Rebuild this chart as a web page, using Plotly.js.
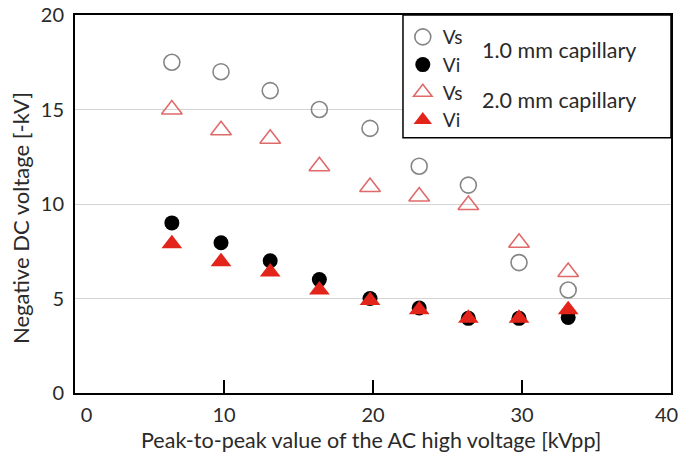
<!DOCTYPE html>
<html>
<head>
<meta charset="utf-8">
<script src="https://cdn.plot.ly/plotly-3.0.1.min.js"></script>
<style>html,body{margin:0;padding:0;background:#fff;}#chart{width:681px;height:454px;}</style>
</head>
<body>
<div id="chart"></div>
<script>
// Peak-to-peak AC voltage [kVpp]
var acVoltage = [6.5, 9.8, 13.1, 16.4, 19.8, 23.1, 26.4, 29.8, 33.1];
// 1.0 mm capillary
var vs1mm = [17.5, 17.0, 16.0, 15.0, 14.0, 12.0, 11.0, 6.9, 5.45];
var vi1mm = [9.0, 7.95, 7.0, 6.0, 5.0, 4.5, 3.95, 3.95, 4.0];
// 2.0 mm capillary
var vs2mm = [15.0, 13.9, 13.45, 12.0, 10.9, 10.4, 9.95, 7.95, 6.4];
var vi2mm = [7.9, 6.95, 6.4, 5.45, 4.9, 4.4, 3.95, 3.95, 4.4];
var seriesNames = ['Vs', 'Vi', 'Vs', 'Vi'];
var groupLabels = ['1.0 mm capillary', '2.0 mm capillary'];
var xTicks = [0, 10, 20, 30, 40];
// last label (40) sits at the right edge; it is drawn as an annotation so it stays inside the page
var xTickText = ['\u2007\u20070', '10', '20', '30', ''];
var xLastTick = xTicks[xTicks.length - 1];
var yTicks = [0, 5, 10, 15, 20];
var xTitle = 'Peak-to-peak value of the AC high voltage [kVpp]';
var yTitle = 'Negative DC voltage [-kV]';

var FONT = 'Lato, "Open Sans", sans-serif';
var TXT = '#2a2a2a';

var traces = [
  {x: acVoltage, y: vs1mm, name: seriesNames[0], mode: 'markers', type: 'scatter',
   marker: {symbol: 'circle-open', size: 16, color: '#858585', line: {width: 1.6, color: '#858585'}}},
  {x: acVoltage, y: vi1mm, name: seriesNames[1], mode: 'markers', type: 'scatter',
   marker: {symbol: 'circle', size: 15, color: '#000000'}},
  {x: acVoltage, y: vs2mm, name: seriesNames[2], mode: 'markers', type: 'scatter',
   marker: {symbol: 'triangle-up-open', size: 18, color: '#e06a6a', line: {width: 1.6, color: '#e06a6a'}}},
  {x: acVoltage, y: vi2mm, name: seriesNames[3], mode: 'markers', type: 'scatter',
   marker: {symbol: 'triangle-up', size: 18, color: '#e3241b'}}
];

var layout = {
  width: 681, height: 454,
  margin: {l: 75, r: 10, t: 15, b: 61},
  paper_bgcolor: '#ffffff', plot_bgcolor: '#ffffff',
  font: {family: FONT, size: 20, color: TXT},
  xaxis: {
    range: [0, 40], tickvals: xTicks, ticktext: xTickText,
    showgrid: false, zeroline: false,
    showline: true, linecolor: '#000', linewidth: 2, mirror: true,
    ticks: 'inside', ticklen: 13, tickwidth: 2, tickcolor: '#000',
    ticklabelstandoff: 3,
    tickfont: {family: FONT, size: 20, color: TXT}
  },
  yaxis: {
    range: [0, 20], tickvals: yTicks, ticktext: yTicks.map(String),
    showgrid: true, gridcolor: '#d4d4d4', gridwidth: 1, zeroline: false,
    showline: true, linecolor: '#000', linewidth: 2, mirror: true,
    ticks: '', ticklabelstandoff: 5,
    tickfont: {family: FONT, size: 20, color: TXT}
  },
  showlegend: true,
  legend: {
    x: 0.55, y: 0.992, xanchor: 'left', yanchor: 'top',
    bgcolor: 'rgba(0,0,0,0)', borderwidth: 0,
    font: {family: FONT, size: 19, color: TXT},
    traceorder: 'normal', itemsizing: 'trace'
  },
  shapes: [
    {type: 'rect', xref: 'paper', yref: 'paper', x0: 0.5503, x1: 1, y0: 0.675, y1: 1,
     line: {color: '#000', width: 1.5}, fillcolor: '#ffffff', layer: 'above'}
  ],
  annotations: [
    {xref: 'paper', yref: 'paper', x: 0.6795, y: 0.907, xanchor: 'left', yanchor: 'middle',
     text: groupLabels[0], showarrow: false, font: {family: FONT, size: 21.5, color: TXT}},
    {xref: 'paper', yref: 'paper', x: 0.6795, y: 0.775, xanchor: 'left', yanchor: 'middle',
     text: groupLabels[1], showarrow: false, font: {family: FONT, size: 21.5, color: TXT}},
    {xref: 'x', yref: 'paper', x: xLastTick, y: -0.056, xanchor: 'center', yanchor: 'middle',
     xshift: -5, text: String(xLastTick), showarrow: false, font: {family: FONT, size: 20, color: TXT}},
    {xref: 'paper', yref: 'paper', x: 0.497, y: -0.124, xanchor: 'center', yanchor: 'middle',
     text: xTitle, showarrow: false, font: {family: FONT, size: 21.5, color: TXT}},
    {xref: 'paper', yref: 'paper', x: -0.0906, y: 0.463, xanchor: 'center', yanchor: 'middle',
     textangle: -90, text: yTitle, showarrow: false, font: {family: FONT, size: 22, color: TXT}}
  ]
};

Plotly.newPlot('chart', traces, layout, {displayModeBar: false, staticPlot: true});
</script>
</body>
</html>
